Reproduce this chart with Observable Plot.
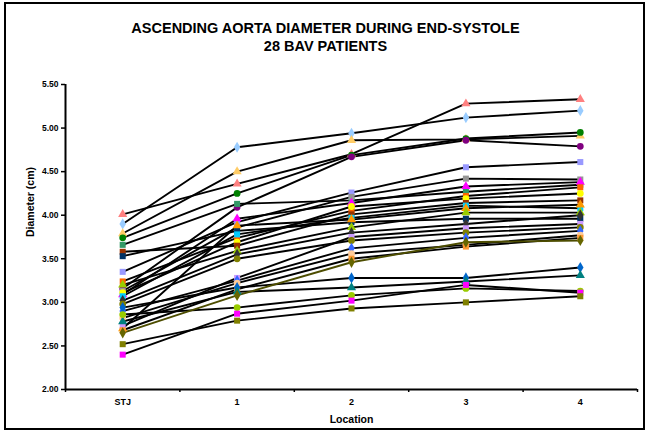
<!DOCTYPE html>
<html>
<head>
<meta charset="utf-8">
<script src="https://cdn.jsdelivr.net/npm/d3@7"></script>
<script src="https://cdn.jsdelivr.net/npm/@observablehq/plot@0.6"></script>
<style>
  html, body { margin: 0; padding: 0; background: #fff; }
  #wrap { position: relative; width: 649px; height: 440px; }
  #border { position: absolute; left: 4px; top: 2px; width: 641px; height: 428px; border: 2.5px solid #000; box-sizing: border-box; pointer-events: none; }
</style>
</head>
<body>
<div id="wrap"><div id="chart"></div><div id="border"></div></div>
<script>
const categories = ["STJ", "1", "2", "3", "4"];
const patients = d3.range(1, 29).map(i => "P" + i);

// diameters (cm) per location, one entry per patient
const stj  = [4.01, 3.90, 3.79, 3.74, 3.16, 3.35, 3.66, 3.13, 3.09, 3.24, 3.11, 3.58, 3.53, 3.07, 2.70, 3.20, 3.02, 2.73, 2.98, 2.90, 2.82, 2.68, 2.94, 2.78, 2.86, 2.40, 2.52, 2.65];
const loc1 = [4.36, 4.78, 4.50, 4.25, 4.09, 3.92, 4.13, 3.86, 3.96, 3.74, 3.69, 3.65, 3.82, 3.78, 3.88, 3.59, 3.55, 3.28, 3.50, 3.25, 3.22, 3.15, 3.17, 3.12, 2.94, 2.87, 2.79, 3.08];
const loc2 = [4.70, 4.94, 4.86, 4.69, 4.67, 4.26, 4.17, 4.21, 4.14, 4.05, 4.10, 4.01, 3.92, 3.97, 3.95, 3.86, 3.80, 3.75, 3.71, 3.62, 3.56, 3.50, 3.28, 3.17, 3.08, 3.02, 2.93, 3.46];
const loc3 = [5.28, 5.12, 4.87, 4.88, 4.86, 4.55, 4.27, 4.42, 4.33, 4.22, 4.19, 4.14, 3.96, 4.11, 4.08, 4.03, 3.90, 3.85, 3.80, 3.74, 3.66, 3.64, 3.28, 3.24, 3.16, 3.20, 3.00, 3.69];
const loc4 = [5.33, 5.20, 4.91, 4.95, 4.79, 4.61, 4.35, 4.41, 4.38, 4.32, 4.25, 4.17, 3.96, 4.08, 4.12, 4.03, 4.00, 3.90, 3.86, 3.82, 3.77, 3.74, 3.40, 3.31, 3.13, 3.11, 3.07, 3.71];

const markerColors = ["#FF8080", "#99CCFF", "#FFCC66", "#008000", "#800080", "#9999FF", "#339966", "#969696", "#FF00FF", "#FF6600", "#FFFF00", "#993300", "#003366", "#00CCFF", "#FF9900", "#99CC00", "#333333", "#CC99FF", "#808000", "#3366FF", "#FFCC99", "#FF9933", "#0066CC", "#008080", "#99CC00", "#FF00FF", "#808000", "#666600"];
const markerSymbols = ["triangle", "diamond", "triangle", "circle", "circle", "square", "square", "square", "triangle", "square", "circle", "square", "square", "square", "triangle", "triangle", "diamond", "square", "circle", "diamond", "circle", "square", "diamond", "triangle", "circle", "square", "square", "diamond"];
const lineColors = patients.map((p, i) => i === 27 ? "#4d4d00" : "#000000");

const title1 = "ASCENDING AORTA DIAMETER DURING END-SYSTOLE";
const title2 = "28 BAV PATIENTS";
const yLabel = "Diameter (cm)";
const xLabel = "Location";
const yTicks = [2.0, 2.5, 3.0, 3.5, 4.0, 4.5, 5.0, 5.5];

const locs = [stj, loc1, loc2, loc3, loc4];
const rows = [];
patients.forEach((p, i) => {
  locs.forEach((arr, j) => rows.push({patient: p, loc: j, value: arr[i], lineColor: lineColors[i]}));
});

const font = "'Liberation Sans', Arial, sans-serif";

const chart = Plot.plot({
  width: 649,
  height: 440,
  marginLeft: 65,
  marginRight: 12,
  marginTop: 84,
  marginBottom: 51,
  style: {fontFamily: font, fontWeight: "bold", fontSize: "8.5px", background: "transparent", color: "#000"},
  x: {domain: [-0.5, categories.length - 0.5]},
  y: {domain: [2, 5.5]},
  symbol: {domain: patients, range: markerSymbols},
  color: {domain: patients, range: markerColors},
  marks: [
    Plot.axisY({ticks: yTicks, tickFormat: d3.format(".2f"), tickSize: 4, tickPadding: 3, label: null, strokeWidth: 1.5}),
    Plot.axisX({ticks: d3.range(categories.length + 1).map(i => i - 0.5), tickFormat: () => "", tickSize: 3, label: null, strokeWidth: 1.5}),
    Plot.axisX({ticks: d3.range(categories.length), tickFormat: i => categories[i], tickSize: 0, tickPadding: 9, label: null, fontSize: 9}),
    Plot.ruleX([-0.5], {stroke: "#000", strokeWidth: 2}),
    Plot.ruleY([2], {stroke: "#000", strokeWidth: 2}),
    Plot.line(rows, {x: "loc", y: "value", z: "patient", stroke: "lineColor", strokeWidth: 1.9}),
    Plot.dot(rows, {x: "loc", y: "value", symbol: "patient", fill: "patient", stroke: "none", r: 3.4}),
    Plot.text([title1], {frameAnchor: "top", dx: -26, dy: -62, fontSize: 14.5, fontWeight: "bold", text: d => d}),
    Plot.text([title2], {frameAnchor: "top", dx: -26, dy: -44, fontSize: 14.5, fontWeight: "bold", text: d => d}),
    Plot.text([xLabel], {frameAnchor: "bottom", dy: 33, fontSize: 10.5, fontWeight: "bold", text: d => d}),
    Plot.text([yLabel], {frameAnchor: "left", dx: -35, rotate: -90, fontSize: 10.5, fontWeight: "bold", text: d => d})
  ]
});
document.getElementById("chart").appendChild(chart);
</script>
</body>
</html>
